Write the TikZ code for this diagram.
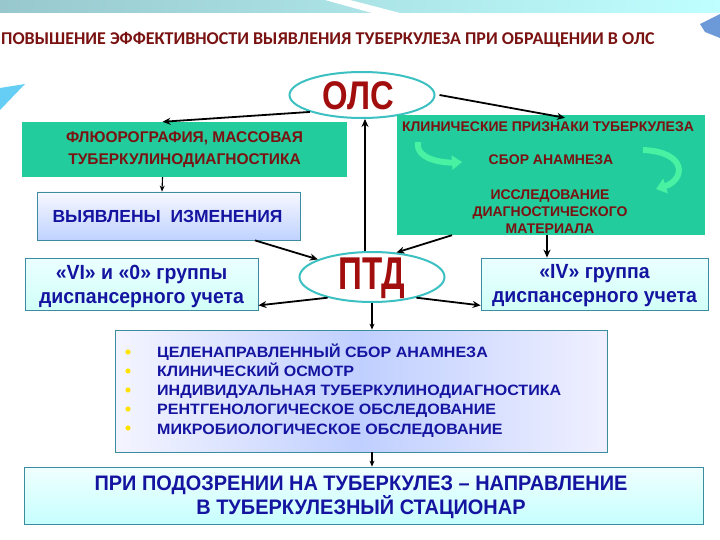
\documentclass[tikz,border=0pt]{standalone}
\usepackage{fontspec}
\setmainfont{Liberation Sans}
\newfontfamily\narrowf{Liberation Sans}[FakeStretch=0.95]
\newfontfamily\ptdf{Liberation Sans}[FakeStretch=0.72]
\newfontfamily\olsf{Liberation Sans}[FakeStretch=0.82]
\newfontfamily\widef{Liberation Sans}[FakeStretch=1.07]
\newfontfamily\titlef{Carlito}
\usetikzlibrary{shapes.geometric,arrows.meta}
\definecolor{tred}{HTML}{7A1212}
\definecolor{bred}{HTML}{A20E0E}
\definecolor{tblue}{HTML}{1414A0}
\definecolor{gfill}{HTML}{22CC9C}
\definecolor{gbright}{HTML}{48F2A2}
\definecolor{bord}{HTML}{3A8C9E}
\definecolor{ering}{HTML}{3CC0C2}
\tikzset{
  conn/.style={-{Stealth[length=8pt,width=7pt]}, line width=1.8pt, black},
  sconn/.style={-{Stealth[length=6pt,width=5pt]}, line width=1.1pt, black},
  oval/.style={ellipse, draw=ering, line width=2pt, fill=white, inner sep=0pt},
  greenbox/.style={rectangle, fill=gfill, inner sep=0pt},
  bluebox/.style={rectangle, draw=bord, line width=0.8pt, inner sep=0pt, align=center},
  redtxt/.style={text=tred, align=center, font=\bfseries\fontsize{15.5}{21.5}\selectfont},
  bltxt/.style={text=tblue, align=center},
}
\begin{document}
\begin{tikzpicture}[x=1pt,y=-1pt]
\useasboundingbox (0,0) rectangle (720,540);
% decorations
\shade[left color=blue!10!cyan!35!gray!60, right color=cyan!25] (0,0) rectangle (720,13);
\fill[white] (325,0) -- (350,0) -- (400,13) -- (372,13) -- cycle;
\fill[cyan!50!blue!60] (700,24) -- (720,14) -- (720,38) -- (705,32) -- cycle;
\fill[cyan!60] (0,88) -- (25,84) -- (0,110) -- cycle;
% title
\node[anchor=west, inner sep=0pt, text=tred, font=\titlef\bfseries\fontsize{18}{20}\selectfont] (title) at (1,40) {ПОВЫШЕНИЕ ЭФФЕКТИВНОСТИ ВЫЯВЛЕНИЯ ТУБЕРКУЛЕЗА ПРИ ОБРАЩЕНИИ В ОЛС};
% nodes
\node[oval, minimum width=145, minimum height=46] (ols) at (362,95) {};
\node[text=bred, font=\olsf\bfseries\fontsize{40}{40}\selectfont] (olst) at (358,96) {ОЛС};
\node[greenbox, minimum width=325, minimum height=55] (fluoro) at (184.5,149.5) {};
\node[redtxt] (fluorot) at (184.5,149.5) {ФЛЮОРОГРАФИЯ, МАССОВАЯ\\ТУБЕРКУЛИНОДИАГНОСТИКА};
\node[bluebox, minimum width=263, minimum height=48, top color=blue!3, bottom color=cyan!30!blue!25] (changes) at (168.5,216) {};
\node[bltxt, font=\bfseries\fontsize{17.5}{18}\selectfont] (changest) at (167.5,216) {ВЫЯВЛЕНЫ\ \ ИЗМЕНЕНИЯ};
\node[greenbox, minimum width=308, minimum height=120] (clin) at (551,175) {};
\node[redtxt, font=\bfseries\fontsize{14}{16}\selectfont] (clin1) at (548,127) {КЛИНИЧЕСКИЕ ПРИЗНАКИ ТУБЕРКУЛЕЗА};
\node[redtxt, font=\bfseries\fontsize{14}{16}\selectfont] (clin2) at (551,160) {СБОР АНАМНЕЗА};
\node[redtxt, font=\bfseries\fontsize{14}{17}\selectfont] (clin3) at (550,211.5) {ИССЛЕДОВАНИЕ\\ДИАГНОСТИЧЕСКОГО\\МАТЕРИАЛА};
% curved light arrows
\draw[gbright, line width=6pt, -{Triangle[length=10pt,width=14pt]}] (418,142) .. controls (415,160) and (445,163) .. (462,162);
\draw[gbright, line width=6pt, -{Triangle[length=10pt,width=15pt]}] (643,150) .. controls (688,152) and (685,180) .. (656,189);
\node[oval, minimum width=145, minimum height=50] (ptd) at (372,277) {};
\node[text=bred, font=\ptdf\bfseries\fontsize{46}{48}\selectfont] (ptdt) at (372,278) {ПТД};
\node[bluebox, minimum width=233, minimum height=52, top color=cyan!8, bottom color=green!15!cyan!18] (g6) at (141.5,284) {};
\node[bltxt, font=\narrowf\bfseries\fontsize{20.5}{24}\selectfont] (g6t) at (141.5,286) {«VI» и «0» группы\\диспансерного учета};
\node[bluebox, minimum width=227, minimum height=52, top color=cyan!8, bottom color=green!15!cyan!18] (g4) at (594.5,284) {};
\node[bltxt, font=\narrowf\bfseries\fontsize{20.5}{24}\selectfont] (g4t) at (594.5,286) {«IV» группа\\диспансерного учета};
\node[bluebox, minimum width=492, minimum height=122, left color=blue!4, right color=blue!6, middle color=cyan!25!blue!25] (list) at (361,391) {};
\node[anchor=west, inner sep=0pt, text=tblue, align=left, font=\widef\bfseries\fontsize{15}{19.2}\selectfont] (listt) at (157,390.5) {ЦЕЛЕНАПРАВЛЕННЫЙ СБОР АНАМНЕЗА\\КЛИНИЧЕСКИЙ ОСМОТР\\ИНДИВИДУАЛЬНАЯ ТУБЕРКУЛИНОДИАГНОСТИКА\\РЕНТГЕНОЛОГИЧЕСКОЕ ОБСЛЕДОВАНИЕ\\МИКРОБИОЛОГИЧЕСКОЕ ОБСЛЕДОВАНИЕ};
\foreach \yy in {352,371,390,409,428}{\fill[yellow!85!orange] (128,\yy) circle (2.6);}
\node[bluebox, minimum width=679, minimum height=57, top color=cyan!6, bottom color=cyan!22] (final) at (363.5,495.5) {};
\node[bltxt, font=\narrowf\bfseries\fontsize{21}{24}\selectfont] (finalt) at (361,497) {ПРИ ПОДОЗРЕНИИ НА ТУБЕРКУЛЕЗ – НАПРАВЛЕНИЕ\\В ТУБЕРКУЛЕЗНЫЙ СТАЦИОНАР};
% connectors
\draw[conn] (ols.198) -- ([xshift=-22]fluoro.north);
\draw[conn] ([xshift=4]ols.east) -- ([xshift=14,yshift=-3]clin.north);
\draw[conn] ([xshift=-7]ptd.north) -- ([xshift=3]ols.south);
\draw[sconn] ([xshift=-22]fluoro.south) -- ([xshift=-6.5]changes.north);
\draw[conn] ([xshift=86.5]changes.south) -- (ptd.162);
\draw[conn] ([xshift=-99]clin.south) -- (ptd.45);
\draw[conn] ([xshift=-4]clin.south) -- ([xshift=-47.5]g4.north);
\draw[conn] (ptd.205) -- ([yshift=5]g6.south east);
\draw[conn] (ptd.-25) -- ([yshift=5]g4.south west);
\draw[sconn] (ptd.south) -- ([xshift=11]list.north);
\draw[sconn] ([xshift=11]list.south) -- ([xshift=8.5]final.north);
\end{tikzpicture}
\end{document}
